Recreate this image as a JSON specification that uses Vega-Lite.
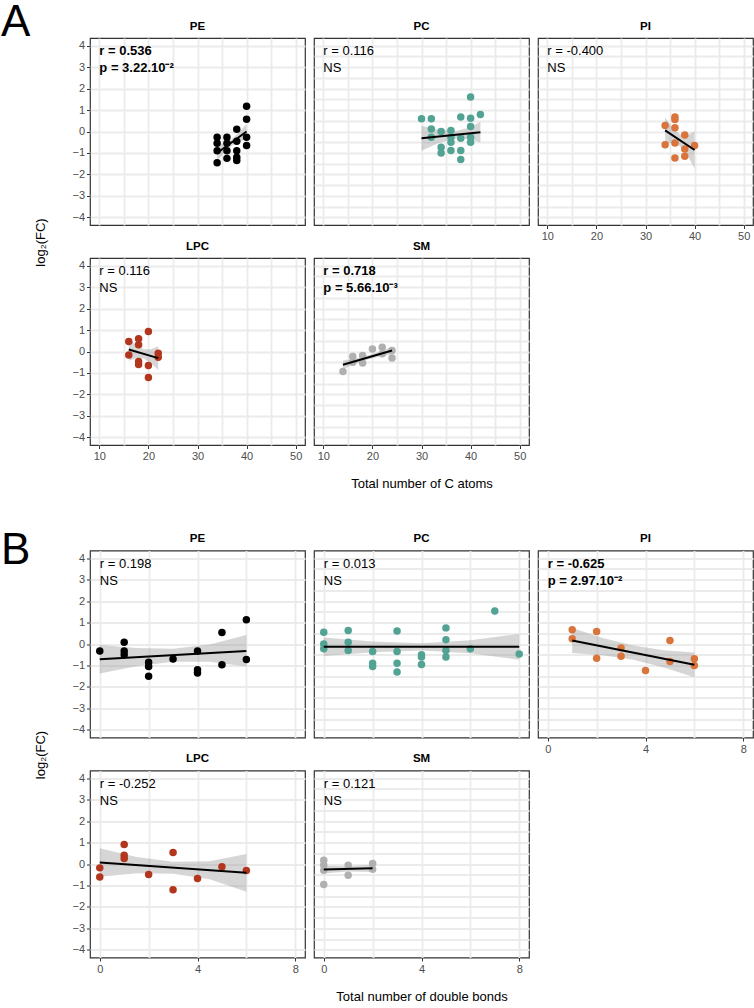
{
"$schema":"https://vega.github.io/schema/vega-lite/v6.json",
"padding":0,
"spacing":36.5,
"data":{"values":[
{"f":"A","c":"PE","k":"pt","x":34,"y":-0.27},{"f":"A","c":"PE","k":"pt","x":34,"y":-0.55},{"f":"A","c":"PE","k":"pt","x":34,"y":-0.9},{"f":"A","c":"PE","k":"pt","x":34,"y":-1.45},
{"f":"A","c":"PE","k":"pt","x":36,"y":-0.27},{"f":"A","c":"PE","k":"pt","x":36,"y":-0.55},{"f":"A","c":"PE","k":"pt","x":36,"y":-0.9},{"f":"A","c":"PE","k":"pt","x":36,"y":-1.25},
{"f":"A","c":"PE","k":"pt","x":38,"y":0.1},{"f":"A","c":"PE","k":"pt","x":38,"y":-0.45},{"f":"A","c":"PE","k":"pt","x":38,"y":-0.9},{"f":"A","c":"PE","k":"pt","x":38,"y":-1.2},{"f":"A","c":"PE","k":"pt","x":38,"y":-1.35},
{"f":"A","c":"PE","k":"pt","x":40,"y":1.18},{"f":"A","c":"PE","k":"pt","x":40,"y":0.57},{"f":"A","c":"PE","k":"pt","x":40,"y":-0.27},{"f":"A","c":"PE","k":"pt","x":40,"y":-0.65},
{"f":"A","c":"PE","k":"band","x":34,"y":-1.35,"y2":-0.65},{"f":"A","c":"PE","k":"band","x":35.5,"y":-0.98,"y2":-0.52},{"f":"A","c":"PE","k":"band","x":37,"y":-0.65,"y2":-0.35},{"f":"A","c":"PE","k":"band","x":38.5,"y":-0.48,"y2":-0.02},{"f":"A","c":"PE","k":"band","x":40,"y":-0.35,"y2":0.35},
{"f":"A","c":"PE","k":"line","x":34,"y":-1.0},{"f":"A","c":"PE","k":"line","x":40,"y":0.0},
{"f":"A","c":"PE","k":"lab","x":10,"y":3.73,"t":"r = 0.536","b":true},{"f":"A","c":"PE","k":"lab","x":10,"y":2.94,"t":"p = 3.22.10⁻²","b":true},

{"f":"A","c":"PC","k":"pt","x":30,"y":0.59},
{"f":"A","c":"PC","k":"pt","x":32,"y":0.59},{"f":"A","c":"PC","k":"pt","x":32,"y":0.12},{"f":"A","c":"PC","k":"pt","x":32,"y":-0.27},
{"f":"A","c":"PC","k":"pt","x":34,"y":0.0},{"f":"A","c":"PC","k":"pt","x":34,"y":-0.73},{"f":"A","c":"PC","k":"pt","x":34,"y":-1.0},
{"f":"A","c":"PC","k":"pt","x":36,"y":0.05},{"f":"A","c":"PC","k":"pt","x":36,"y":-0.27},{"f":"A","c":"PC","k":"pt","x":36,"y":-0.5},{"f":"A","c":"PC","k":"pt","x":36,"y":-0.88},
{"f":"A","c":"PC","k":"pt","x":38,"y":0.67},{"f":"A","c":"PC","k":"pt","x":38,"y":-0.31},{"f":"A","c":"PC","k":"pt","x":38,"y":-0.88},{"f":"A","c":"PC","k":"pt","x":38,"y":-1.3},
{"f":"A","c":"PC","k":"pt","x":40,"y":1.6},{"f":"A","c":"PC","k":"pt","x":40,"y":0.62},{"f":"A","c":"PC","k":"pt","x":40,"y":0.23},{"f":"A","c":"PC","k":"pt","x":40,"y":-0.27},{"f":"A","c":"PC","k":"pt","x":40,"y":-0.5},
{"f":"A","c":"PC","k":"pt","x":42,"y":0.79},
{"f":"A","c":"PC","k":"band","x":30,"y":-0.89,"y2":0.27},{"f":"A","c":"PC","k":"band","x":33.5,"y":-0.53,"y2":0.07},{"f":"A","c":"PC","k":"band","x":37,"y":-0.32,"y2":0.02},{"f":"A","c":"PC","k":"band","x":40,"y":-0.36,"y2":0.2},{"f":"A","c":"PC","k":"band","x":42,"y":-0.51,"y2":0.45},
{"f":"A","c":"PC","k":"line","x":30,"y":-0.31},{"f":"A","c":"PC","k":"line","x":42,"y":-0.03},
{"f":"A","c":"PC","k":"lab","x":10,"y":3.73,"t":"r = 0.116","b":false},{"f":"A","c":"PC","k":"lab","x":10,"y":2.94,"t":"NS","b":false},

{"f":"A","c":"PI","k":"pt","x":34,"y":0.28},{"f":"A","c":"PI","k":"pt","x":34,"y":-0.62},
{"f":"A","c":"PI","k":"pt","x":36,"y":0.67},{"f":"A","c":"PI","k":"pt","x":36,"y":0.56},{"f":"A","c":"PI","k":"pt","x":36,"y":0.17},{"f":"A","c":"PI","k":"pt","x":36,"y":-0.53},{"f":"A","c":"PI","k":"pt","x":36,"y":-1.23},
{"f":"A","c":"PI","k":"pt","x":38,"y":-0.16},{"f":"A","c":"PI","k":"pt","x":38,"y":-0.81},{"f":"A","c":"PI","k":"pt","x":38,"y":-1.15},
{"f":"A","c":"PI","k":"pt","x":40,"y":-0.65},
{"f":"A","c":"PI","k":"band","x":34,"y":-0.55,"y2":0.65},{"f":"A","c":"PI","k":"band","x":35.5,"y":-0.53,"y2":0.17},{"f":"A","c":"PI","k":"band","x":37,"y":-0.68,"y2":-0.14},{"f":"A","c":"PI","k":"band","x":38.5,"y":-1.08,"y2":-0.18},{"f":"A","c":"PI","k":"band","x":40,"y":-1.72,"y2":0.0},
{"f":"A","c":"PI","k":"line","x":34,"y":0.05},{"f":"A","c":"PI","k":"line","x":40,"y":-0.86},
{"f":"A","c":"PI","k":"lab","x":10,"y":3.73,"t":"r = -0.400","b":false},{"f":"A","c":"PI","k":"lab","x":10,"y":2.94,"t":"NS","b":false},

{"f":"A","c":"LPC","k":"pt","x":16,"y":0.47},{"f":"A","c":"LPC","k":"pt","x":16,"y":-0.16},
{"f":"A","c":"LPC","k":"pt","x":18,"y":0.59},{"f":"A","c":"LPC","k":"pt","x":18,"y":0.31},{"f":"A","c":"LPC","k":"pt","x":18,"y":-0.47},{"f":"A","c":"LPC","k":"pt","x":18,"y":-0.6},
{"f":"A","c":"LPC","k":"pt","x":20,"y":0.93},{"f":"A","c":"LPC","k":"pt","x":20,"y":-0.65},{"f":"A","c":"LPC","k":"pt","x":20,"y":-1.21},
{"f":"A","c":"LPC","k":"pt","x":22,"y":-0.08},{"f":"A","c":"LPC","k":"pt","x":22,"y":-0.27},
{"f":"A","c":"LPC","k":"band","x":16,"y":-0.43,"y2":0.61},{"f":"A","c":"LPC","k":"band","x":17.5,"y":-0.31,"y2":0.29},{"f":"A","c":"LPC","k":"band","x":19,"y":-0.33,"y2":0.11},{"f":"A","c":"LPC","k":"band","x":20.5,"y":-0.53,"y2":0.11},{"f":"A","c":"LPC","k":"band","x":22,"y":-0.86,"y2":0.24},
{"f":"A","c":"LPC","k":"line","x":16,"y":0.09},{"f":"A","c":"LPC","k":"line","x":22,"y":-0.31},
{"f":"A","c":"LPC","k":"lab","x":10,"y":3.73,"t":"r = 0.116","b":false},{"f":"A","c":"LPC","k":"lab","x":10,"y":2.94,"t":"NS","b":false},

{"f":"A","c":"SM","k":"pt","x":14,"y":-0.93},{"f":"A","c":"SM","k":"pt","x":16,"y":-0.23},{"f":"A","c":"SM","k":"pt","x":16,"y":-0.5},{"f":"A","c":"SM","k":"pt","x":18,"y":-0.19},{"f":"A","c":"SM","k":"pt","x":18,"y":-0.54},
{"f":"A","c":"SM","k":"pt","x":20,"y":0.12},{"f":"A","c":"SM","k":"pt","x":22,"y":0.2},{"f":"A","c":"SM","k":"pt","x":22,"y":-0.11},{"f":"A","c":"SM","k":"pt","x":24,"y":0.05},{"f":"A","c":"SM","k":"pt","x":24,"y":-0.3},
{"f":"A","c":"SM","k":"band","x":14,"y":-0.82,"y2":-0.42},{"f":"A","c":"SM","k":"band","x":16.5,"y":-0.57,"y2":-0.33},{"f":"A","c":"SM","k":"band","x":19,"y":-0.37,"y2":-0.19},{"f":"A","c":"SM","k":"band","x":21.5,"y":-0.23,"y2":-0.01},{"f":"A","c":"SM","k":"band","x":24,"y":-0.13,"y2":0.23},
{"f":"A","c":"SM","k":"line","x":14,"y":-0.62},{"f":"A","c":"SM","k":"line","x":24,"y":0.05},
{"f":"A","c":"SM","k":"lab","x":10,"y":3.73,"t":"r = 0.718","b":true},{"f":"A","c":"SM","k":"lab","x":10,"y":2.94,"t":"p = 5.66.10⁻³","b":true},

{"f":"B","c":"PE","k":"pt","x":0,"y":-0.33},{"f":"B","c":"PE","k":"pt","x":1,"y":0.08},{"f":"B","c":"PE","k":"pt","x":1,"y":-0.33},{"f":"B","c":"PE","k":"pt","x":1,"y":-0.5},
{"f":"B","c":"PE","k":"pt","x":2,"y":-0.85},{"f":"B","c":"PE","k":"pt","x":2,"y":-1.05},{"f":"B","c":"PE","k":"pt","x":2,"y":-1.5},{"f":"B","c":"PE","k":"pt","x":3,"y":-0.7},
{"f":"B","c":"PE","k":"pt","x":4,"y":-0.33},{"f":"B","c":"PE","k":"pt","x":4,"y":-1.2},{"f":"B","c":"PE","k":"pt","x":4,"y":-1.35},
{"f":"B","c":"PE","k":"pt","x":5,"y":0.53},{"f":"B","c":"PE","k":"pt","x":5,"y":-0.97},{"f":"B","c":"PE","k":"pt","x":6,"y":1.13},{"f":"B","c":"PE","k":"pt","x":6,"y":-0.72},
{"f":"B","c":"PE","k":"band","x":0,"y":-1.37,"y2":-0.05},{"f":"B","c":"PE","k":"band","x":1.5,"y":-1.03,"y2":-0.19},{"f":"B","c":"PE","k":"band","x":3,"y":-0.82,"y2":-0.22},{"f":"B","c":"PE","k":"band","x":4.5,"y":-0.82,"y2":-0.02},{"f":"B","c":"PE","k":"band","x":6,"y":-1.05,"y2":0.42},
{"f":"B","c":"PE","k":"line","x":0,"y":-0.71},{"f":"B","c":"PE","k":"line","x":6,"y":-0.33},
{"f":"B","c":"PE","k":"lab","x":0,"y":3.73,"t":"r = 0.198","b":false},{"f":"B","c":"PE","k":"lab","x":0,"y":2.94,"t":"NS","b":false},

{"f":"B","c":"PC","k":"pt","x":0,"y":0.55},{"f":"B","c":"PC","k":"pt","x":0,"y":0.0},{"f":"B","c":"PC","k":"pt","x":0,"y":-0.22},
{"f":"B","c":"PC","k":"pt","x":1,"y":0.63},{"f":"B","c":"PC","k":"pt","x":1,"y":0.08},{"f":"B","c":"PC","k":"pt","x":1,"y":-0.3},
{"f":"B","c":"PC","k":"pt","x":2,"y":-0.35},{"f":"B","c":"PC","k":"pt","x":2,"y":-0.9},{"f":"B","c":"PC","k":"pt","x":2,"y":-1.05},
{"f":"B","c":"PC","k":"pt","x":3,"y":0.6},{"f":"B","c":"PC","k":"pt","x":3,"y":-0.35},{"f":"B","c":"PC","k":"pt","x":3,"y":-0.9},{"f":"B","c":"PC","k":"pt","x":3,"y":-1.3},
{"f":"B","c":"PC","k":"pt","x":4,"y":-0.5},{"f":"B","c":"PC","k":"pt","x":4,"y":-0.6},{"f":"B","c":"PC","k":"pt","x":4,"y":-0.95},
{"f":"B","c":"PC","k":"pt","x":5,"y":0.75},{"f":"B","c":"PC","k":"pt","x":5,"y":0.2},{"f":"B","c":"PC","k":"pt","x":5,"y":-0.3},{"f":"B","c":"PC","k":"pt","x":5,"y":-0.6},
{"f":"B","c":"PC","k":"pt","x":6,"y":-0.22},{"f":"B","c":"PC","k":"pt","x":7,"y":1.53},{"f":"B","c":"PC","k":"pt","x":8,"y":-0.46},
{"f":"B","c":"PC","k":"band","x":0,"y":-0.56,"y2":0.3},{"f":"B","c":"PC","k":"band","x":2,"y":-0.38,"y2":0.12},{"f":"B","c":"PC","k":"band","x":4,"y":-0.3,"y2":0.04},{"f":"B","c":"PC","k":"band","x":6,"y":-0.43,"y2":0.17},{"f":"B","c":"PC","k":"band","x":8,"y":-0.73,"y2":0.47},
{"f":"B","c":"PC","k":"line","x":0,"y":-0.13},{"f":"B","c":"PC","k":"line","x":8,"y":-0.13},
{"f":"B","c":"PC","k":"lab","x":0,"y":3.73,"t":"r = 0.013","b":false},{"f":"B","c":"PC","k":"lab","x":0,"y":2.94,"t":"NS","b":false},

{"f":"B","c":"PI","k":"pt","x":1,"y":0.66},{"f":"B","c":"PI","k":"pt","x":1,"y":0.24},{"f":"B","c":"PI","k":"pt","x":2,"y":0.58},{"f":"B","c":"PI","k":"pt","x":2,"y":-0.66},
{"f":"B","c":"PI","k":"pt","x":3,"y":-0.18},{"f":"B","c":"PI","k":"pt","x":3,"y":-0.57},{"f":"B","c":"PI","k":"pt","x":4,"y":-1.23},{"f":"B","c":"PI","k":"pt","x":5,"y":0.16},
{"f":"B","c":"PI","k":"pt","x":5,"y":-0.81},{"f":"B","c":"PI","k":"pt","x":6,"y":-0.69},{"f":"B","c":"PI","k":"pt","x":6,"y":-1.0},
{"f":"B","c":"PI","k":"band","x":1,"y":-0.42,"y2":0.74},{"f":"B","c":"PI","k":"band","x":2.25,"y":-0.52,"y2":0.28},{"f":"B","c":"PI","k":"band","x":3.5,"y":-0.73,"y2":-0.07},{"f":"B","c":"PI","k":"band","x":4.75,"y":-1.09,"y2":-0.29},{"f":"B","c":"PI","k":"band","x":6,"y":-1.55,"y2":-0.39},
{"f":"B","c":"PI","k":"line","x":1,"y":0.16},{"f":"B","c":"PI","k":"line","x":6,"y":-0.97},
{"f":"B","c":"PI","k":"lab","x":0,"y":3.73,"t":"r = -0.625","b":true},{"f":"B","c":"PI","k":"lab","x":0,"y":2.94,"t":"p = 2.97.10⁻²","b":true},

{"f":"B","c":"LPC","k":"pt","x":0,"y":-0.18},{"f":"B","c":"LPC","k":"pt","x":0,"y":-0.6},{"f":"B","c":"LPC","k":"pt","x":1,"y":0.91},{"f":"B","c":"LPC","k":"pt","x":1,"y":0.41},
{"f":"B","c":"LPC","k":"pt","x":1,"y":0.26},{"f":"B","c":"LPC","k":"pt","x":2,"y":-0.49},{"f":"B","c":"LPC","k":"pt","x":3,"y":0.53},{"f":"B","c":"LPC","k":"pt","x":3,"y":-1.2},
{"f":"B","c":"LPC","k":"pt","x":4,"y":-0.67},{"f":"B","c":"LPC","k":"pt","x":5,"y":-0.13},{"f":"B","c":"LPC","k":"pt","x":6,"y":-0.3},
{"f":"B","c":"LPC","k":"band","x":0,"y":-0.59,"y2":0.73},{"f":"B","c":"LPC","k":"band","x":1.5,"y":-0.43,"y2":0.33},{"f":"B","c":"LPC","k":"band","x":3,"y":-0.45,"y2":0.11},{"f":"B","c":"LPC","k":"band","x":4.5,"y":-0.71,"y2":0.13},{"f":"B","c":"LPC","k":"band","x":6,"y":-1.29,"y2":0.47},
{"f":"B","c":"LPC","k":"line","x":0,"y":0.07},{"f":"B","c":"LPC","k":"line","x":6,"y":-0.41},
{"f":"B","c":"LPC","k":"lab","x":0,"y":3.73,"t":"r = -0.252","b":false},{"f":"B","c":"LPC","k":"lab","x":0,"y":2.94,"t":"NS","b":false},

{"f":"B","c":"SM","k":"pt","x":0,"y":0.18},{"f":"B","c":"SM","k":"pt","x":0,"y":-0.05},{"f":"B","c":"SM","k":"pt","x":0,"y":-0.29},{"f":"B","c":"SM","k":"pt","x":0,"y":-0.95},
{"f":"B","c":"SM","k":"pt","x":1,"y":-0.06},{"f":"B","c":"SM","k":"pt","x":1,"y":-0.52},{"f":"B","c":"SM","k":"pt","x":2,"y":0.02},{"f":"B","c":"SM","k":"pt","x":2,"y":-0.24},
{"f":"B","c":"SM","k":"band","x":0,"y":-0.44,"y2":-0.08},{"f":"B","c":"SM","k":"band","x":1,"y":-0.35,"y2":-0.11},{"f":"B","c":"SM","k":"band","x":2,"y":-0.37,"y2":-0.03},
{"f":"B","c":"SM","k":"line","x":0,"y":-0.26},{"f":"B","c":"SM","k":"line","x":2,"y":-0.2},
{"f":"B","c":"SM","k":"lab","x":0,"y":3.73,"t":"r = 0.121","b":false},{"f":"B","c":"SM","k":"lab","x":0,"y":2.94,"t":"NS","b":false}
]},
"vconcat":[
{"title":{"text":"A","orient":"top","anchor":"start","frame":"bounds","fontSize":44,"fontWeight":"normal","baseline":"top","align":"left","offset":-25,"dx":-32.5},
 "columns":3,"spacing":{"row":33,"column":9},"bounds":"flush",
 "concat":[
  {"title":"PE","width":215,"height":187,"transform":[{"filter":"datum.f=='A'&&datum.c=='PE'"}],
   "encoding":{"x":{"field":"x","type":"quantitative","scale":{"domain":[8.1,51.9],"nice":false,"zero":false},"axis":{"values":[10,15,20,25,30,35,40,45,50],"labels":false,"ticks":false,"title":null}},
               "y":{"field":"y","type":"quantitative","scale":{"domain":[-4.35,4.35],"nice":false,"zero":false},"axis":{"values":[-4,-3.5,-3,-2.5,-2,-1.5,-1,-0.5,0,0.5,1,1.5,2,2.5,3,3.5,4],"format":"d","labelExpr":"datum.value%1===0?datum.label:''","tickOpacity":{"condition":{"test":"datum.value%1!==0","value":0},"value":1},"title":"log₂(FC)","titleX":-50,"titleY":204,"titleBaseline":"middle","titleAlign":"center","titleAngle":-90}}},
   "layer":[
    {"transform":[{"filter":"datum.k=='band'"}],"mark":"area","encoding":{"y2":{"field":"y2"}}},
    {"transform":[{"filter":"datum.k=='pt'"}],"mark":"circle","encoding":{"color":{"field":"c","type":"nominal","scale":{"domain":["PE","PC","PI","LPC","SM"],"range":["#000000","#52A394","#D8743C","#B2361E","#B0B0B0"]},"legend":null}}},
    {"transform":[{"filter":"datum.k=='line'"}],"mark":"line","encoding":{}},
    {"transform":[{"filter":"datum.k=='lab'&&!datum.b"}],"mark":"text","encoding":{"text":{"field":"t"}}},
    {"transform":[{"filter":"datum.k=='lab'&&datum.b"}],"mark":{"type":"text","fontWeight":"bold"},"encoding":{"text":{"field":"t"}}}
   ]},
  {"title":"PC","width":215,"height":187,"transform":[{"filter":"datum.f=='A'&&datum.c=='PC'"}],
   "encoding":{"x":{"field":"x","type":"quantitative","scale":{"domain":[8.1,51.9],"nice":false,"zero":false},"axis":{"values":[10,15,20,25,30,35,40,45,50],"labels":false,"ticks":false,"title":null}},
               "y":{"field":"y","type":"quantitative","scale":{"domain":[-4.35,4.35],"nice":false,"zero":false},"axis":{"values":[-4,-3.5,-3,-2.5,-2,-1.5,-1,-0.5,0,0.5,1,1.5,2,2.5,3,3.5,4],"labels":false,"ticks":false,"title":null}}},
   "layer":[
    {"transform":[{"filter":"datum.k=='band'"}],"mark":"area","encoding":{"y2":{"field":"y2"}}},
    {"transform":[{"filter":"datum.k=='pt'"}],"mark":"circle","encoding":{"color":{"field":"c","type":"nominal","scale":{"domain":["PE","PC","PI","LPC","SM"],"range":["#000000","#52A394","#D8743C","#B2361E","#B0B0B0"]},"legend":null}}},
    {"transform":[{"filter":"datum.k=='line'"}],"mark":"line","encoding":{}},
    {"transform":[{"filter":"datum.k=='lab'&&!datum.b"}],"mark":"text","encoding":{"text":{"field":"t"}}},
    {"transform":[{"filter":"datum.k=='lab'&&datum.b"}],"mark":{"type":"text","fontWeight":"bold"},"encoding":{"text":{"field":"t"}}}
   ]},
  {"title":"PI","width":215,"height":187,"transform":[{"filter":"datum.f=='A'&&datum.c=='PI'"}],
   "encoding":{"x":{"field":"x","type":"quantitative","scale":{"domain":[8.1,51.9],"nice":false,"zero":false},"axis":{"values":[10,15,20,25,30,35,40,45,50],"labelExpr":"datum.value%10===0?datum.label:''","tickOpacity":{"condition":{"test":"datum.value%10!==0","value":0},"value":1},"title":null}},
               "y":{"field":"y","type":"quantitative","scale":{"domain":[-4.35,4.35],"nice":false,"zero":false},"axis":{"values":[-4,-3.5,-3,-2.5,-2,-1.5,-1,-0.5,0,0.5,1,1.5,2,2.5,3,3.5,4],"labels":false,"ticks":false,"title":null}}},
   "layer":[
    {"transform":[{"filter":"datum.k=='band'"}],"mark":"area","encoding":{"y2":{"field":"y2"}}},
    {"transform":[{"filter":"datum.k=='pt'"}],"mark":"circle","encoding":{"color":{"field":"c","type":"nominal","scale":{"domain":["PE","PC","PI","LPC","SM"],"range":["#000000","#52A394","#D8743C","#B2361E","#B0B0B0"]},"legend":null}}},
    {"transform":[{"filter":"datum.k=='line'"}],"mark":"line","encoding":{}},
    {"transform":[{"filter":"datum.k=='lab'&&!datum.b"}],"mark":"text","encoding":{"text":{"field":"t"}}},
    {"transform":[{"filter":"datum.k=='lab'&&datum.b"}],"mark":{"type":"text","fontWeight":"bold"},"encoding":{"text":{"field":"t"}}}
   ]},
  {"title":"LPC","width":215,"height":187,"transform":[{"filter":"datum.f=='A'&&datum.c=='LPC'"}],
   "encoding":{"x":{"field":"x","type":"quantitative","scale":{"domain":[8.1,51.9],"nice":false,"zero":false},"axis":{"values":[10,15,20,25,30,35,40,45,50],"labelExpr":"datum.value%10===0?datum.label:''","tickOpacity":{"condition":{"test":"datum.value%10!==0","value":0},"value":1},"title":null}},
               "y":{"field":"y","type":"quantitative","scale":{"domain":[-4.35,4.35],"nice":false,"zero":false},"axis":{"values":[-4,-3.5,-3,-2.5,-2,-1.5,-1,-0.5,0,0.5,1,1.5,2,2.5,3,3.5,4],"format":"d","labelExpr":"datum.value%1===0?datum.label:''","tickOpacity":{"condition":{"test":"datum.value%1!==0","value":0},"value":1},"title":null}}},
   "layer":[
    {"transform":[{"filter":"datum.k=='band'"}],"mark":"area","encoding":{"y2":{"field":"y2"}}},
    {"transform":[{"filter":"datum.k=='pt'"}],"mark":"circle","encoding":{"color":{"field":"c","type":"nominal","scale":{"domain":["PE","PC","PI","LPC","SM"],"range":["#000000","#52A394","#D8743C","#B2361E","#B0B0B0"]},"legend":null}}},
    {"transform":[{"filter":"datum.k=='line'"}],"mark":"line","encoding":{}},
    {"transform":[{"filter":"datum.k=='lab'&&!datum.b"}],"mark":"text","encoding":{"text":{"field":"t"}}},
    {"transform":[{"filter":"datum.k=='lab'&&datum.b"}],"mark":{"type":"text","fontWeight":"bold"},"encoding":{"text":{"field":"t"}}}
   ]},
  {"title":"SM","width":215,"height":187,"transform":[{"filter":"datum.f=='A'&&datum.c=='SM'"}],
   "encoding":{"x":{"field":"x","type":"quantitative","scale":{"domain":[8.1,51.9],"nice":false,"zero":false},"axis":{"values":[10,15,20,25,30,35,40,45,50],"labelExpr":"datum.value%10===0?datum.label:''","tickOpacity":{"condition":{"test":"datum.value%10!==0","value":0},"value":1},"title":"Total number of C atoms","titlePadding":16}},
               "y":{"field":"y","type":"quantitative","scale":{"domain":[-4.35,4.35],"nice":false,"zero":false},"axis":{"values":[-4,-3.5,-3,-2.5,-2,-1.5,-1,-0.5,0,0.5,1,1.5,2,2.5,3,3.5,4],"labels":false,"ticks":false,"title":null}}},
   "layer":[
    {"transform":[{"filter":"datum.k=='band'"}],"mark":"area","encoding":{"y2":{"field":"y2"}}},
    {"transform":[{"filter":"datum.k=='pt'"}],"mark":"circle","encoding":{"color":{"field":"c","type":"nominal","scale":{"domain":["PE","PC","PI","LPC","SM"],"range":["#000000","#52A394","#D8743C","#B2361E","#B0B0B0"]},"legend":null}}},
    {"transform":[{"filter":"datum.k=='line'"}],"mark":"line","encoding":{}},
    {"transform":[{"filter":"datum.k=='lab'&&!datum.b"}],"mark":"text","encoding":{"text":{"field":"t"}}},
    {"transform":[{"filter":"datum.k=='lab'&&datum.b"}],"mark":{"type":"text","fontWeight":"bold"},"encoding":{"text":{"field":"t"}}}
   ]}
 ]},
{"title":{"text":"B","orient":"top","anchor":"start","frame":"bounds","fontSize":44,"fontWeight":"normal","baseline":"top","align":"left","offset":-41,"dx":-32.5},
 "columns":3,"spacing":{"row":33,"column":9},"bounds":"flush",
 "concat":[
  {"title":"PE","width":215,"height":187,"transform":[{"filter":"datum.f=='B'&&datum.c=='PE'"}],
   "encoding":{"x":{"field":"x","type":"quantitative","scale":{"domain":[-0.4,8.4],"nice":false,"zero":false},"axis":{"values":[0,2,4,6,8],"labels":false,"ticks":false,"title":null}},
               "y":{"field":"y","type":"quantitative","scale":{"domain":[-4.35,4.35],"nice":false,"zero":false},"axis":{"values":[-4,-3.5,-3,-2.5,-2,-1.5,-1,-0.5,0,0.5,1,1.5,2,2.5,3,3.5,4],"format":"d","labelExpr":"datum.value%1===0?datum.label:''","tickOpacity":{"condition":{"test":"datum.value%1!==0","value":0},"value":1},"title":"log₂(FC)","titleX":-50,"titleY":204,"titleBaseline":"middle","titleAlign":"center","titleAngle":-90}}},
   "layer":[
    {"transform":[{"filter":"datum.k=='band'"}],"mark":"area","encoding":{"y2":{"field":"y2"}}},
    {"transform":[{"filter":"datum.k=='pt'"}],"mark":"circle","encoding":{"color":{"field":"c","type":"nominal","scale":{"domain":["PE","PC","PI","LPC","SM"],"range":["#000000","#52A394","#D8743C","#B2361E","#B0B0B0"]},"legend":null}}},
    {"transform":[{"filter":"datum.k=='line'"}],"mark":"line","encoding":{}},
    {"transform":[{"filter":"datum.k=='lab'&&!datum.b"}],"mark":"text","encoding":{"text":{"field":"t"}}},
    {"transform":[{"filter":"datum.k=='lab'&&datum.b"}],"mark":{"type":"text","fontWeight":"bold"},"encoding":{"text":{"field":"t"}}}
   ]},
  {"title":"PC","width":215,"height":187,"transform":[{"filter":"datum.f=='B'&&datum.c=='PC'"}],
   "encoding":{"x":{"field":"x","type":"quantitative","scale":{"domain":[-0.4,8.4],"nice":false,"zero":false},"axis":{"values":[0,2,4,6,8],"labels":false,"ticks":false,"title":null}},
               "y":{"field":"y","type":"quantitative","scale":{"domain":[-4.35,4.35],"nice":false,"zero":false},"axis":{"values":[-4,-3.5,-3,-2.5,-2,-1.5,-1,-0.5,0,0.5,1,1.5,2,2.5,3,3.5,4],"labels":false,"ticks":false,"title":null}}},
   "layer":[
    {"transform":[{"filter":"datum.k=='band'"}],"mark":"area","encoding":{"y2":{"field":"y2"}}},
    {"transform":[{"filter":"datum.k=='pt'"}],"mark":"circle","encoding":{"color":{"field":"c","type":"nominal","scale":{"domain":["PE","PC","PI","LPC","SM"],"range":["#000000","#52A394","#D8743C","#B2361E","#B0B0B0"]},"legend":null}}},
    {"transform":[{"filter":"datum.k=='line'"}],"mark":"line","encoding":{}},
    {"transform":[{"filter":"datum.k=='lab'&&!datum.b"}],"mark":"text","encoding":{"text":{"field":"t"}}},
    {"transform":[{"filter":"datum.k=='lab'&&datum.b"}],"mark":{"type":"text","fontWeight":"bold"},"encoding":{"text":{"field":"t"}}}
   ]},
  {"title":"PI","width":215,"height":187,"transform":[{"filter":"datum.f=='B'&&datum.c=='PI'"}],
   "encoding":{"x":{"field":"x","type":"quantitative","scale":{"domain":[-0.4,8.4],"nice":false,"zero":false},"axis":{"values":[0,2,4,6,8],"labelExpr":"datum.value%4===0?datum.label:''","tickOpacity":{"condition":{"test":"datum.value%4!==0","value":0},"value":1},"title":null}},
               "y":{"field":"y","type":"quantitative","scale":{"domain":[-4.35,4.35],"nice":false,"zero":false},"axis":{"values":[-4,-3.5,-3,-2.5,-2,-1.5,-1,-0.5,0,0.5,1,1.5,2,2.5,3,3.5,4],"labels":false,"ticks":false,"title":null}}},
   "layer":[
    {"transform":[{"filter":"datum.k=='band'"}],"mark":"area","encoding":{"y2":{"field":"y2"}}},
    {"transform":[{"filter":"datum.k=='pt'"}],"mark":"circle","encoding":{"color":{"field":"c","type":"nominal","scale":{"domain":["PE","PC","PI","LPC","SM"],"range":["#000000","#52A394","#D8743C","#B2361E","#B0B0B0"]},"legend":null}}},
    {"transform":[{"filter":"datum.k=='line'"}],"mark":"line","encoding":{}},
    {"transform":[{"filter":"datum.k=='lab'&&!datum.b"}],"mark":"text","encoding":{"text":{"field":"t"}}},
    {"transform":[{"filter":"datum.k=='lab'&&datum.b"}],"mark":{"type":"text","fontWeight":"bold"},"encoding":{"text":{"field":"t"}}}
   ]},
  {"title":"LPC","width":215,"height":187,"transform":[{"filter":"datum.f=='B'&&datum.c=='LPC'"}],
   "encoding":{"x":{"field":"x","type":"quantitative","scale":{"domain":[-0.4,8.4],"nice":false,"zero":false},"axis":{"values":[0,2,4,6,8],"labelExpr":"datum.value%4===0?datum.label:''","tickOpacity":{"condition":{"test":"datum.value%4!==0","value":0},"value":1},"title":null}},
               "y":{"field":"y","type":"quantitative","scale":{"domain":[-4.35,4.35],"nice":false,"zero":false},"axis":{"values":[-4,-3.5,-3,-2.5,-2,-1.5,-1,-0.5,0,0.5,1,1.5,2,2.5,3,3.5,4],"format":"d","labelExpr":"datum.value%1===0?datum.label:''","tickOpacity":{"condition":{"test":"datum.value%1!==0","value":0},"value":1},"title":null}}},
   "layer":[
    {"transform":[{"filter":"datum.k=='band'"}],"mark":"area","encoding":{"y2":{"field":"y2"}}},
    {"transform":[{"filter":"datum.k=='pt'"}],"mark":"circle","encoding":{"color":{"field":"c","type":"nominal","scale":{"domain":["PE","PC","PI","LPC","SM"],"range":["#000000","#52A394","#D8743C","#B2361E","#B0B0B0"]},"legend":null}}},
    {"transform":[{"filter":"datum.k=='line'"}],"mark":"line","encoding":{}},
    {"transform":[{"filter":"datum.k=='lab'&&!datum.b"}],"mark":"text","encoding":{"text":{"field":"t"}}},
    {"transform":[{"filter":"datum.k=='lab'&&datum.b"}],"mark":{"type":"text","fontWeight":"bold"},"encoding":{"text":{"field":"t"}}}
   ]},
  {"title":"SM","width":215,"height":187,"transform":[{"filter":"datum.f=='B'&&datum.c=='SM'"}],
   "encoding":{"x":{"field":"x","type":"quantitative","scale":{"domain":[-0.4,8.4],"nice":false,"zero":false},"axis":{"values":[0,2,4,6,8],"labelExpr":"datum.value%4===0?datum.label:''","tickOpacity":{"condition":{"test":"datum.value%4!==0","value":0},"value":1},"title":"Total number of double bonds","titlePadding":16}},
               "y":{"field":"y","type":"quantitative","scale":{"domain":[-4.35,4.35],"nice":false,"zero":false},"axis":{"values":[-4,-3.5,-3,-2.5,-2,-1.5,-1,-0.5,0,0.5,1,1.5,2,2.5,3,3.5,4],"labels":false,"ticks":false,"title":null}}},
   "layer":[
    {"transform":[{"filter":"datum.k=='band'"}],"mark":"area","encoding":{"y2":{"field":"y2"}}},
    {"transform":[{"filter":"datum.k=='pt'"}],"mark":"circle","encoding":{"color":{"field":"c","type":"nominal","scale":{"domain":["PE","PC","PI","LPC","SM"],"range":["#000000","#52A394","#D8743C","#B2361E","#B0B0B0"]},"legend":null}}},
    {"transform":[{"filter":"datum.k=='line'"}],"mark":"line","encoding":{}},
    {"transform":[{"filter":"datum.k=='lab'&&!datum.b"}],"mark":"text","encoding":{"text":{"field":"t"}}},
    {"transform":[{"filter":"datum.k=='lab'&&datum.b"}],"mark":{"type":"text","fontWeight":"bold"},"encoding":{"text":{"field":"t"}}}
   ]}
 ]}
],
"config":{
 "view":{"stroke":"#333333","strokeWidth":1.2},
 "axis":{"domain":false,"grid":true,"gridColor":"#EBEBEB","gridWidth":1.8,"tickColor":"#333333","tickSize":3.5,"tickWidth":1,"labelColor":"#4D4D4D","labelFont":"Liberation Sans","labelFontSize":11,"labelPadding":2,"titleFont":"Liberation Sans","titleFontSize":13,"titleFontWeight":"normal","titleColor":"#000000","labelOverlap":false,"labelBound":false,"labelFlush":false},
 "title":{"font":"Liberation Sans","fontSize":11.5,"fontWeight":"bold","color":"#000000","frame":"group","anchor":"middle","offset":6},
 "circle":{"size":56,"opacity":1},
 "line":{"color":"#000000","strokeWidth":2},
 "area":{"color":"#999999","opacity":0.4},
 "text":{"font":"Liberation Sans","fontSize":13,"align":"left","baseline":"middle","color":"#000000"}
}
}
